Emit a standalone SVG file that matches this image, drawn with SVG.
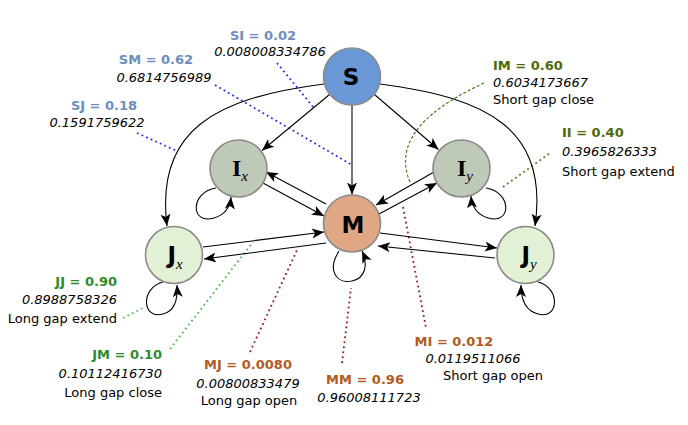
<svg xmlns="http://www.w3.org/2000/svg" width="688" height="425" viewBox="0 0 688 425">
<defs>
<marker id="arr" markerUnits="userSpaceOnUse" markerWidth="14" markerHeight="12" refX="12" refY="5" orient="auto">
<path d="M0,0 L12,5 L0,10 L3,5 z" fill="#000"/>
</marker>
<style>
.node{stroke:#8a8a8a;stroke-width:1.6}
.e{fill:none;stroke:#000;stroke-width:1.1;marker-end:url(#arr)}
.lbl{font-family:"DejaVu Sans",Verdana,sans-serif;font-size:13px;font-weight:bold}
.num{font-family:"DejaVu Sans",Verdana,sans-serif;font-size:13px;font-style:italic;fill:#000}
.txt{font-family:"DejaVu Sans",Verdana,sans-serif;font-size:13px;fill:#000}
.ns{font-family:"DejaVu Sans",Verdana,sans-serif;font-size:23px;font-weight:bold;fill:#000}
.ni{font-family:"Liberation Serif","Times New Roman",serif;font-size:24px;font-weight:bold;fill:#000}
.sub{font-family:"Liberation Serif","Times New Roman",serif;font-size:15px;font-style:italic;font-weight:normal}
.blue{fill:#6c8ebf}
.olive{fill:#4d6b0a}
.green{fill:#2e8b2e}
.brown{fill:#b35a1f}
.dB{fill:none;stroke:#2b2bff;stroke-width:1.8;stroke-dasharray:1.8 3.2}
.dO{fill:none;stroke:#4d7a1f;stroke-width:1.8;stroke-dasharray:1.8 3.2}
.dOd{fill:none;stroke:#4d7a1f;stroke-width:1.2;stroke-dasharray:3 2}
.dG{fill:none;stroke:#5cb85c;stroke-width:1.8;stroke-dasharray:1.8 3.2}
.dR{fill:none;stroke:#9b1c1c;stroke-width:1.8;stroke-dasharray:1.8 3.2}
</style>
</defs>
<rect width="688" height="425" fill="#fff"/>

<g id="leaders">
<line class="dB" x1="277" y1="63" x2="314" y2="108"/>
<line class="dB" x1="215" y1="85" x2="352" y2="165"/>
<line class="dB" x1="137" y1="133" x2="177" y2="151"/>
<path class="dOd" d="M484,83 C430,108 392,140 410,182"/>
<line class="dO" x1="503" y1="187" x2="550" y2="153"/>
<line class="dG" x1="123" y1="318" x2="145" y2="307"/>
<line class="dG" x1="170" y1="349" x2="253" y2="242"/>
<line class="dR" x1="250" y1="352" x2="297" y2="250"/>
<line class="dR" x1="342" y1="363" x2="351" y2="288"/>
<line class="dR" x1="403" y1="207" x2="426" y2="328"/>
</g>

<g id="connectors">
<line class="e" x1="352" y1="105" x2="352" y2="194.5"/>
<line class="e" x1="329.5" y1="94.5" x2="262" y2="150.5"/>
<line class="e" x1="374.5" y1="94.5" x2="438.5" y2="149.5"/>
<path class="e" d="M324,84 C215,98 155,130 167,226"/>
<path class="e" d="M380,84 C489,98 549,130 535,226"/>
<line class="e" x1="263" y1="183" x2="324" y2="216"/>
<line class="e" x1="326" y1="204" x2="266" y2="172"/>
<line class="e" x1="434" y1="172" x2="376" y2="205"/>
<line class="e" x1="379" y1="214" x2="437" y2="183"/>
<line class="e" x1="203" y1="247" x2="324" y2="232"/>
<line class="e" x1="326" y1="243" x2="204" y2="259"/>
<line class="e" x1="380" y1="233" x2="497" y2="248"/>
<line class="e" x1="495" y1="258" x2="378" y2="246"/>
<path class="e" d="M216,188 C190,192 190,225 214,218 C224,215 230,208 231,197"/>
<path class="e" d="M486,188 C512,192 512,225 488,218 C478,215 472,208 471,196"/>
<path class="e" d="M339,251 C326,272 338,284 352,281 C366,278 368,264 362,251"/>
<path class="e" d="M163,282 C140,288 142,320 163,314 C175,311 178,300 177,285"/>
<path class="e" d="M538,282 C561,288 559,320 538,314 C526,311 521,300 521,285"/>
</g>

<g id="node-S">
<circle class="node" cx="352" cy="76.5" r="28.5" fill="#6a98d6"/>
<text class="ns" x="351" y="85" text-anchor="middle">S</text>
</g>
<g id="node-Ix">
<circle class="node" cx="238.5" cy="168.5" r="28.5" fill="#bfc9b7"/>
<text class="ni" x="240" y="176" text-anchor="middle">I<tspan class="sub" dy="5">x</tspan></text>
</g>
<g id="node-Iy">
<circle class="node" cx="461.5" cy="168.5" r="28.5" fill="#bfc9b7"/>
<text class="ni" x="465" y="176" text-anchor="middle">I<tspan class="sub" dy="5">y</tspan></text>
</g>
<g id="node-M">
<circle class="node" cx="352" cy="223.5" r="28.5" fill="#dfa784"/>
<text class="ns" x="353" y="233" text-anchor="middle">M</text>
</g>
<g id="node-Jx">
<circle class="node" cx="174" cy="255" r="28.5" fill="#e2f1d6"/>
<text class="ns" x="175" y="263" text-anchor="middle">J<tspan class="sub" dy="6">x</tspan></text>
</g>
<g id="node-Jy">
<circle class="node" cx="525.5" cy="255" r="28.5" fill="#e2f1d6"/>
<text class="ns" x="529" y="263" text-anchor="middle">J<tspan class="sub" dy="6">y</tspan></text>
</g>

<g id="labels">
<text class="lbl blue" x="263" y="40" text-anchor="middle">SI = 0.02</text>
<text class="num" x="270" y="55.5" text-anchor="middle">0.008008334786</text>
<text class="lbl blue" x="156" y="64" text-anchor="middle">SM = 0.62</text>
<text class="num" x="164" y="82" text-anchor="middle">0.6814756989</text>
<text class="lbl blue" x="104" y="110" text-anchor="middle">SJ = 0.18</text>
<text class="num" x="97" y="127" text-anchor="middle">0.1591759622</text>

<text class="lbl olive" x="493" y="70">IM = 0.60</text>
<text class="num" x="493" y="87">0.6034173667</text>
<text class="txt" x="493" y="104">Short gap close</text>
<text class="lbl olive" x="562" y="137">II = 0.40</text>
<text class="num" x="562" y="156">0.3965826333</text>
<text class="txt" x="562" y="176">Short gap extend</text>

<text class="lbl green" x="117" y="286" text-anchor="end">JJ = 0.90</text>
<text class="num" x="117" y="304" text-anchor="end">0.8988758326</text>
<text class="txt" x="117" y="323" text-anchor="end">Long gap extend</text>
<text class="lbl green" x="162" y="359" text-anchor="end">JM = 0.10</text>
<text class="num" x="162" y="378" text-anchor="end">0.10112416730</text>
<text class="txt" x="162" y="397" text-anchor="end">Long gap close</text>

<text class="lbl brown" x="248" y="369" text-anchor="middle">MJ = 0.0080</text>
<text class="num" x="248" y="388" text-anchor="middle">0.00800833479</text>
<text class="txt" x="249" y="405" text-anchor="middle">Long gap open</text>
<text class="lbl brown" x="365" y="384" text-anchor="middle">MM = 0.96</text>
<text class="num" x="369" y="402" text-anchor="middle">0.96008111723</text>
<text class="lbl brown" x="454" y="346" text-anchor="middle">MI = 0.012</text>
<text class="num" x="473" y="363" text-anchor="middle">0.0119511066</text>
<text class="txt" x="493" y="380" text-anchor="middle">Short gap open</text>
</g>
</svg>
